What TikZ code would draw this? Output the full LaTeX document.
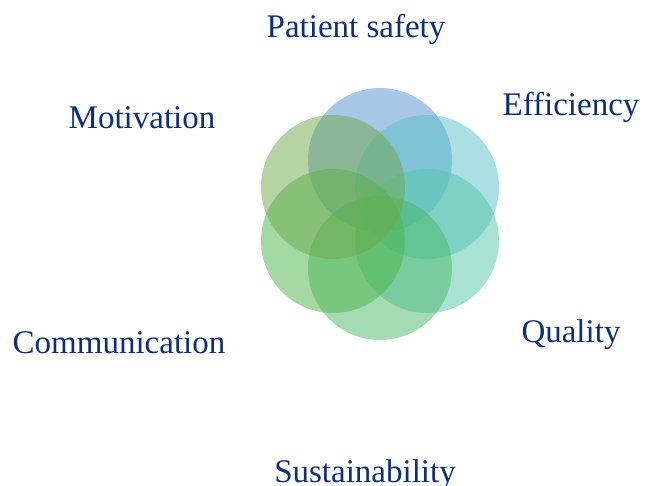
\documentclass[tikz,border=0pt]{standalone}
\usepackage{fontspec}
\setmainfont{Liberation Serif}
\definecolor{txt}{HTML}{0E2F78}
\definecolor{cA}{HTML}{5591D1}
\definecolor{cB}{HTML}{59C1C9}
\definecolor{cC}{HTML}{55C5A9}
\definecolor{cD}{HTML}{4BB969}
\definecolor{cE}{HTML}{4BB54B}
\definecolor{cF}{HTML}{6FA94B}
\begin{document}
\begin{tikzpicture}[x=1pt,y=-1pt,
  lbl/.style={text=txt,font=\fontsize{33}{38}\selectfont,anchor=base,inner sep=0pt},
  petal/.style={fill=#1,fill opacity=0.5,draw=none}]
\useasboundingbox (0,0) rectangle (655,486);
\fill[white] (0,0) rectangle (655,486);
\coordinate (c) at (380,214);
\fill[petal=cA] (380,160) circle[radius=72];
\fill[petal=cB] (427,187) circle[radius=72];
\fill[petal=cC] (427,241) circle[radius=72];
\fill[petal=cD] (380,268) circle[radius=72];
\fill[petal=cE] (333,241) circle[radius=72];
\fill[petal=cF] (333,187) circle[radius=72];
\node[lbl] (ps) at (356,38) {Patient safety};
\node[lbl] (ef) at (571,116) {Efficiency};
\node[lbl] (mo) at (142,129) {Motivation};
\node[lbl] (co) at (119,353) {Communication};
\node[lbl] (qu) at (571,342) {Quality};
\node[lbl] (su) at (365,482) {Sustainability};
\end{tikzpicture}
\end{document}
